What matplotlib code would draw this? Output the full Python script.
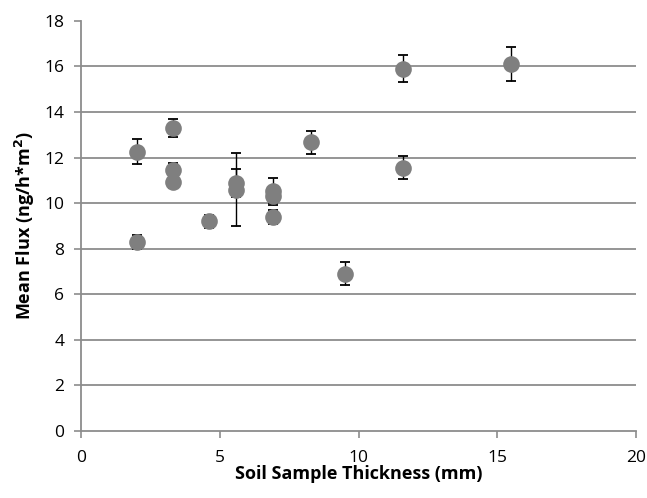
import numpy as np
import matplotlib.pyplot as plt

# soil thickness (mm) vs mean flux
thickness = [2.0, 2.0, 3.3, 3.3, 3.3, 4.6, 5.6, 5.6, 6.9, 6.9, 6.9, 8.3, 9.5, 11.6, 11.6, 15.5]
mean_flux = [12.25, 8.3, 13.3, 11.45, 10.95, 9.2, 10.88, 10.6, 10.55, 10.3, 9.4, 12.67, 6.9, 15.9, 11.55, 16.12]
flux_err = [0.55, 0.3, 0.4, 0.3, 0.3, 0.3, 0.6, 1.6, 0.55, 0.4, 0.3, 0.5, 0.5, 0.6, 0.5, 0.75]

x_ticks = [0, 5, 10, 15, 20]
y_ticks = [0, 2, 4, 6, 8, 10, 12, 14, 16, 18]

plt.rcParams['font.family'] = ['Open Sans', 'DejaVu Sans']

fig = plt.figure(figsize=(6.47, 4.98), dpi=100)
ax = fig.add_axes([0.1252, 0.1345, 0.858, 0.8235])

grid_col = '#8c8c8c'
for yv in y_ticks[1:-1]:
    ax.axhline(yv, color=grid_col, lw=1.3, zorder=0)

ax.errorbar(thickness, mean_flux, yerr=flux_err, fmt='none', ecolor='black',
            elinewidth=1.0, capsize=3.6, capthick=1.3, zorder=2)
ax.plot(thickness, mean_flux, 'o', color='#7f7f7f', markersize=12,
        markeredgewidth=0, zorder=3)

ax.set_xlim(0, 20)
ax.set_ylim(0, 18)
ax.set_xticks(x_ticks)
ax.set_yticks(y_ticks)

for s in ['top', 'right']:
    ax.spines[s].set_visible(False)
for s in ['left', 'bottom']:
    ax.spines[s].set_color(grid_col)
    ax.spines[s].set_linewidth(1.3)

ax.tick_params(axis='both', colors=grid_col, length=5, width=1.2, labelsize=12.5,
               labelcolor='black')
ax.tick_params(axis='x', pad=9)
ax.tick_params(axis='y', pad=7)

ax.set_xlabel('Soil Sample Thickness (mm)', fontsize=13, fontweight='bold', labelpad=-1)
ax.set_ylabel('Mean Flux (ng/h*m$^\\mathbf{2}$)', fontsize=13, fontweight='bold', labelpad=5)

fig.savefig('out.png', dpi=100)
